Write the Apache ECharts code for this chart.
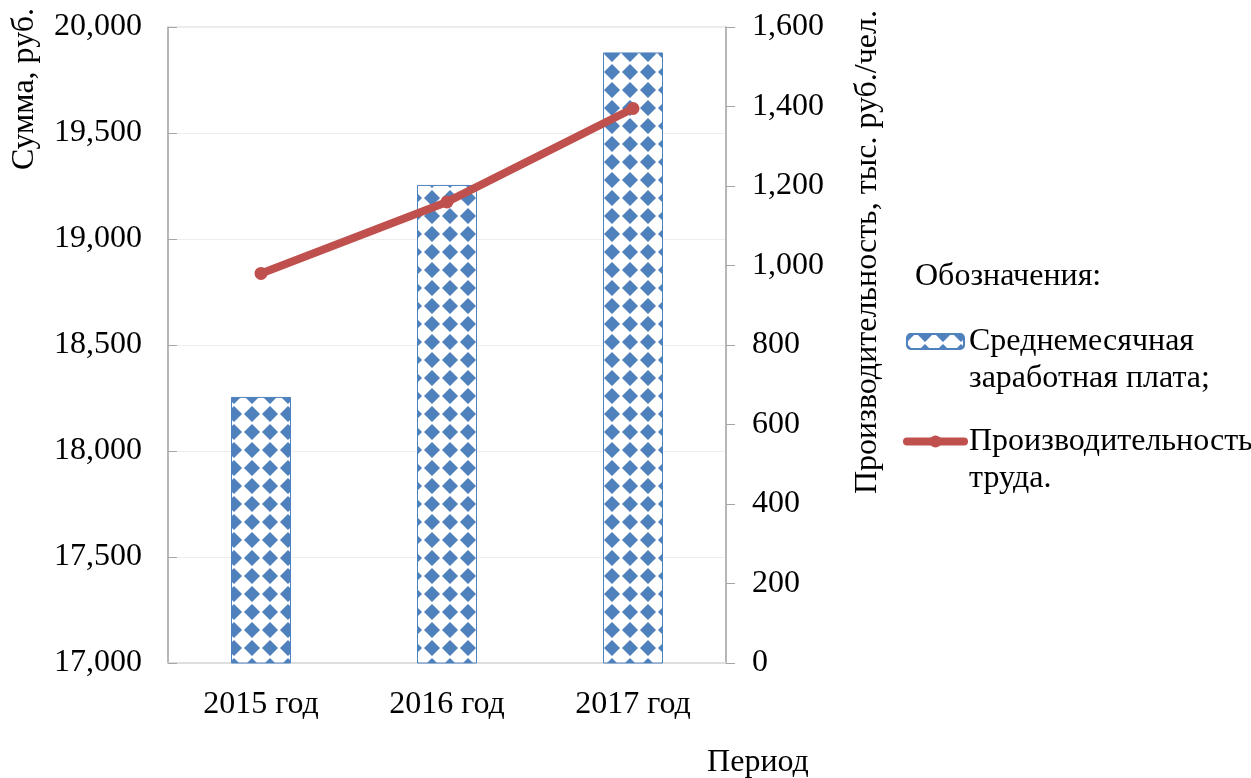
<!DOCTYPE html>
<html>
<head>
<meta charset="utf-8">
<script src="https://cdn.jsdelivr.net/npm/echarts@6/dist/echarts.min.js"></script>
<style>
  html, body { margin: 0; padding: 0; background: #fff; }
  #chart { width: 1251px; height: 778px; }
</style>
</head>
<body>
<div id="chart"></div>
<script>
// Periods and series values
const periods = ['2015 год', '2016 год', '2017 год'];
const salary = [18255, 19255, 19880];          // руб.
const productivity = [980, 1160, 1395];        // тыс. руб./чел.

const salaryName = 'Среднемесячная\nзаработная плата;';
const productivityName = 'Производительность\nтруда.';

const leftTicks = { min: 17000, max: 20000, interval: 500 };
const rightTicks = { min: 0, max: 1600, interval: 200 };

const FONT = '"Liberation Serif", "Times New Roman", serif';
const FS = 32;
const BLUE = '#4F81BD';
const RED = '#C0504D';

// Diamond pattern fill for the bars
function makePattern() {
  const s = 18;
  const c = document.createElement('canvas');
  c.width = s; c.height = s;
  const g = c.getContext('2d');
  g.fillStyle = BLUE;
  g.fillRect(0, 0, s, s);
  g.fillStyle = '#fff';
  g.strokeStyle = '#fff';
  g.lineJoin = 'round';
  g.lineWidth = 3.5;
  g.beginPath();
  g.moveTo(s / 2, 1.5);
  g.lineTo(s - 1.5, s / 2);
  g.lineTo(s / 2, s - 1.5);
  g.lineTo(1.5, s / 2);
  g.closePath();
  g.fill();
  g.stroke();
  return c;
}

const fmt = v => v.toLocaleString('en-US');
const chart = echarts.init(document.getElementById('chart'), null, { renderer: 'canvas' });

chart.setOption({
  animation: false,
  backgroundColor: '#fff',
  textStyle: { fontFamily: FONT, color: '#000' },
  grid: {
    left: 168, right: 525, top: 27, bottom: 115,
    show: true, borderColor: '#D9D9D9', borderWidth: 1, backgroundColor: 'transparent'
  },
  legend: {
    orient: 'vertical',
    left: 903,
    top: 286,
    padding: 0,
    itemWidth: 57,
    itemHeight: 15,
    itemGap: -11,
    selectedMode: false,
    data: [
      { name: salaryName },
      { name: productivityName, lineStyle: { width: 8, color: RED } }
    ],
    // a leading spacer line keeps the icon level with the first text line
    formatter: name => ' \n' + name,
    textStyle: { fontFamily: FONT, fontSize: FS, color: '#000', lineHeight: 37 }
  },
  xAxis: {
    type: 'category',
    data: periods,
    axisLine: { lineStyle: { color: '#D9D9D9', width: 1.5 } },
    axisTick: { show: false },
    axisLabel: { fontFamily: FONT, fontSize: FS, color: '#000', margin: 26 }
  },
  yAxis: [
    {
      type: 'value',
      position: 'left',
      min: leftTicks.min, max: leftTicks.max, interval: leftTicks.interval,
      axisLine: { show: true, lineStyle: { color: '#A6A6A6', width: 1.5 } },
      axisTick: { show: true, inside: true, length: 9, lineStyle: { color: '#A6A6A6' } },
      splitLine: { show: true, lineStyle: { color: '#EDEDED', width: 1 } },
      axisLabel: { fontFamily: FONT, fontSize: FS, color: '#000', margin: 26, formatter: fmt }
    },
    {
      type: 'value',
      position: 'right',
      min: rightTicks.min, max: rightTicks.max, interval: rightTicks.interval,
      axisLine: { show: true, lineStyle: { color: '#A6A6A6', width: 1.5 } },
      axisTick: { show: true, inside: false, length: 9, lineStyle: { color: '#A6A6A6' } },
      splitLine: { show: false },
      axisLabel: { fontFamily: FONT, fontSize: FS, color: '#000', margin: 26, formatter: fmt }
    }
  ],
  graphic: [
    {
      type: 'text', x: 25, y: 89, rotation: Math.PI / 2,
      style: { text: 'Сумма, руб.', font: FS + 'px ' + FONT, fill: '#000', align: 'center', verticalAlign: 'middle' }
    },
    {
      type: 'text', x: 868, y: 252, rotation: Math.PI / 2,
      style: { text: 'Производительность, тыс. руб./чел.', font: FS + 'px ' + FONT, fill: '#000', align: 'center', verticalAlign: 'middle' }
    },
    {
      type: 'text', x: 758, y: 763,
      style: { text: 'Период', font: FS + 'px ' + FONT, fill: '#000', align: 'center', verticalAlign: 'middle' }
    },
    {
      type: 'text', x: 915, y: 277,
      style: { text: 'Обозначения:', font: FS + 'px ' + FONT, fill: '#000', align: 'left', verticalAlign: 'middle' }
    }
  ],
  series: [
    {
      name: salaryName,
      type: 'bar',
      yAxisIndex: 0,
      data: salary,
      barWidth: 60,
      itemStyle: {
        color: { image: makePattern(), repeat: 'repeat' },
        borderColor: BLUE,
        borderWidth: 1
      }
    },
    {
      name: productivityName,
      type: 'line',
      yAxisIndex: 1,
      data: productivity,
      z: 5,
      symbol: 'circle',
      symbolSize: 13,
      lineStyle: { color: RED, width: 8, cap: 'round' },
      itemStyle: { color: RED }
    }
  ]
});
</script>
</body>
</html>
